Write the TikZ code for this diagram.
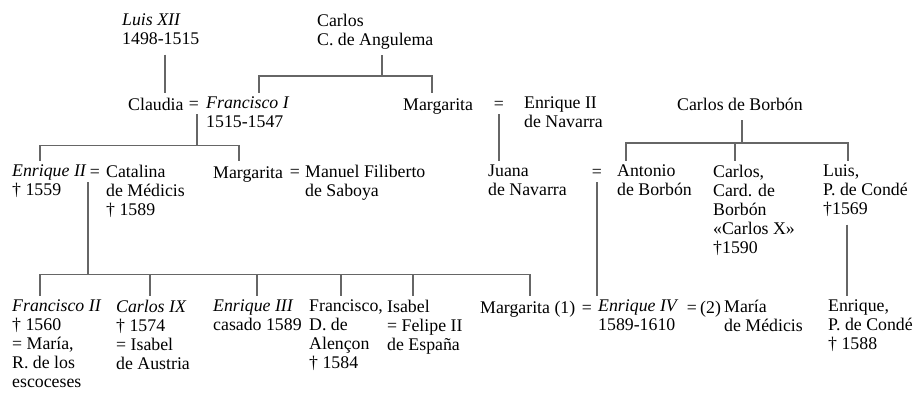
\documentclass[tikz,border=0pt]{standalone}
\usepackage{fontspec}
\setmainfont{Liberation Serif}
\usetikzlibrary{calc}

\tikzset{
  person/.style={anchor=north west, yshift=17.3pt, align=left, inner xsep=0pt, inner ysep=4pt,
    font=\fontsize{17.8}{19}\selectfont,
    execute at begin node=\strut, execute at end node=\strut},
  wed/.style={anchor=base, inner xsep=0pt, inner ysep=4pt,
    font=\fontsize{17.8}{19}\selectfont},
  tree/.style={draw=black!60, line width=1.3pt}
}

\begin{document}
\begin{tikzpicture}[x=1pt,y=-1pt]
\useasboundingbox (0,0) rectangle (918,395);
% first generation
\node[person] (luis) at (122,27) {\textit{Luis XII}\\1498-1515};
\node[person] (angulema) at (317,27) {Carlos\\C. de Angulema};
% second generation
\node[person] (claudia) at (128,110) {Claudia};
\node[wed] (eq1) at (194,110) {=};
\node[person] (francisco) at (206,110) {\textit{Francisco I}\\1515-1547};
\node[person] (margarita1) at (403,110) {Margarita};
\node[wed] (eq2) at (499,110) {=};
\node[person] (enriqueN) at (524,110) {Enrique II\\de Navarra};
\node[person] (borbon) at (677,110) {Carlos de Borbón};
% third generation
\node[person] (enrique2) at (12,178) {\textit{Enrique II}\\† 1559};
\node[wed] (eq3) at (95,178) {=};
\node[person] (catalina) at (106,178) {Catalina\\de Médicis\\† 1589};
\node[person] (margarita2) at (213,178) {Margarita};
\node[wed] (eq7) at (295,178) {=};
\node[person] (manuel) at (305,178) {Manuel Filiberto\\de Saboya};
\node[person] (juana) at (488,178) {Juana\\de Navarra};
\node[wed] (eq4) at (597,178) {=};
\node[person] (antonio) at (617,178) {Antonio\\de Borbón};
\node[person] (carlosC) at (713,178) {Carlos,\\Card. de\\Borbón\\«Carlos X»\\†1590};
\node[person] (luisC) at (823,178) {Luis,\\P. de Condé\\†1569};
% fourth generation
\node[person] (franciscoII) at (12,313) {\textit{Francisco II}\\† 1560\\= María,\\R. de los\\escoceses};
\node[person] (carlosIX) at (116,313) {\textit{Carlos IX}\\† 1574\\= Isabel\\de Austria};
\node[person] (enriqueIII) at (213,313) {\textit{Enrique III}\\casado 1589};
\node[person] (franciscoD) at (309,313) {Francisco,\\D. de\\Alençon\\† 1584};
\node[person] (isabel) at (387,313) {Isabel\\= Felipe II\\de España};
\node[person] (margarita3) at (480,313) {Margarita (1)};
\node[wed] (eq5) at (587,313) {=};
\node[person] (enriqueIV) at (598,313) {\textit{Enrique IV}\\1589-1610};
\node[wed] (eq6) at (692,313) {=};
\node[person] (second) at (700,313) {(2)};
\node[person] (maria) at (724,313) {María\\de Médicis};
\node[person] (conde) at (828,313) {Enrique,\\P. de Condé\\† 1588};
% Luis XII -- Claudia
\draw[tree] ([xshift=43]luis.south west) -- ([xshift=43]luis.south west |- claudia.north);
% children of Angulema
\draw[tree] ([xshift=65]angulema.south west) -- ++(0,21) coordinate (b1);
\draw[tree] ([xshift=53]francisco.north west) |- (b1) -| ([xshift=29]margarita1.north west);
% children of Francisco I
\draw[tree] ([xshift=3]eq1.south) -- ++(0,31) coordinate (b2);
\draw[tree] ([xshift=28]enrique2.north west) |- (b2) -| ([xshift=26]margarita2.north west);
% Juana
\draw[tree] (eq2.south) -- (eq2.south |- juana.north);
% children of Carlos de Borbon
\draw[tree] ([xshift=65]borbon.south west) -- ++(0,23) coordinate (b3);
\draw[tree] ([xshift=9]antonio.north west) |- (b3) -| ([xshift=25]luisC.north west);
\draw[tree] ([xshift=22]carlosC.north west) -- ([xshift=22]carlosC.north west |- b3);
% children of Enrique II
\draw[tree] ([xshift=-7]eq3.south) -- ++(0,92) coordinate (b4);
\draw[tree] ([xshift=28]franciscoII.north west) |- (b4) -| ([xshift=50]margarita3.north west);
\foreach \n/\d in {carlosIX/34, enriqueIII/44, franciscoD/32, isabel/26}
  \draw[tree] ([xshift=\d]\n.north west) -- ([xshift=\d]\n.north west |- b4);
% Enrique IV
\draw[tree] (eq4.south) -- (eq4.south |- enriqueIV.north);
% Enrique, P. de Conde
\draw[tree] ([xshift=24]luisC.south west) -- ([xshift=24]luisC.south west |- conde.north);
\end{tikzpicture}
\end{document}
